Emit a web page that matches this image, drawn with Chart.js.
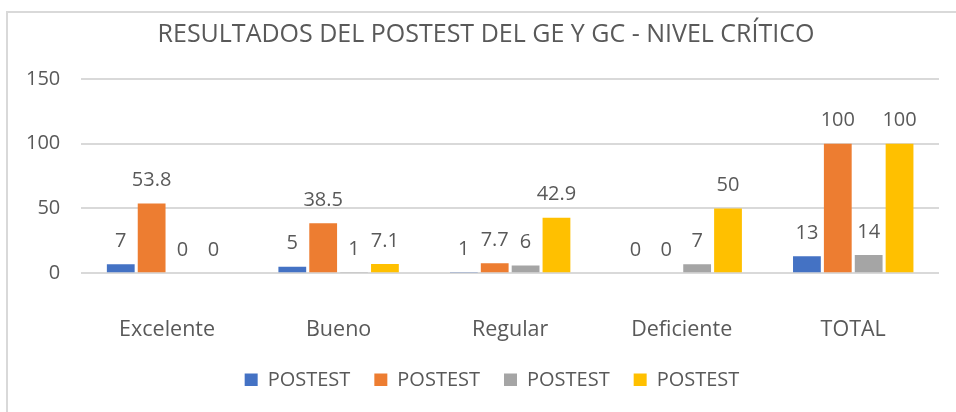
<!DOCTYPE html>
<html>
<head>
<meta charset="utf-8">
<script src="https://cdn.jsdelivr.net/npm/chart.js@4.4.1/dist/chart.umd.min.js"></script>
<style>
  body { margin: 0; background: #fff; overflow: hidden; }
  #wrap { position: relative; width: 956px; height: 412px; }
  #frame {
    position: absolute; left: 6px; top: 11px; width: 960px; height: 410px;
    border: 2px solid #d9d9d9; box-sizing: border-box;
  }
  canvas { position: absolute; left: 0; top: 0; }
</style>
</head>
<body>
<div id="wrap">
  <div id="frame"></div>
  <canvas id="chart" width="956" height="412"></canvas>
</div>
<script>
// chart data
const categories = ['Excelente', 'Bueno', 'Regular', 'Deficiente', 'TOTAL'];
const seriesNames = ['POSTEST', 'POSTEST', 'POSTEST', 'POSTEST'];
const serie1 = [7, 5, 1, 0, 13];
const serie2 = [53.8, 38.5, 7.7, 0, 100];
const serie3 = [0, 1, 6, 7, 14];
const serie4 = [0, 7.1, 42.9, 50, 100];
const colors = ['#4472C4', '#ED7D31', '#A5A5A5', '#FFC000'];
const yTicks = [0, 50, 100, 150];

const FONT = '"Open Sans", sans-serif';
const TEXT = '#595959';

// simple value labels above each bar (no datalabels plugin available)
const barLabels = {
    id: 'barLabels',
    afterLayout(chart) {
        // title and legend sit a bit right of centre in the original
        chart.titleBlock.left += 14; chart.titleBlock.right += 14;
        chart.legend.left += 20; chart.legend.right += 20;
    },
    afterDatasetsDraw(chart) {
        const ctx = chart.ctx;
        ctx.save();
        ctx.font = '20px ' + FONT;
        ctx.fillStyle = TEXT;
        ctx.textAlign = 'center';
        ctx.textBaseline = 'bottom';
        chart.data.datasets.forEach((ds, i) => {
            chart.getDatasetMeta(i).data.forEach((bar, j) => {
                ctx.fillText(String(ds.data[j]), bar.x, bar.y - 13);
            });
        });
        ctx.restore();
    }
};

new Chart(document.getElementById('chart'), {
    type: 'bar',
    data: {
        labels: categories,
        datasets: [serie1, serie2, serie3, serie4].map((d, i) => ({
            label: seriesNames[i],
            data: d,
            backgroundColor: colors[i],
            categoryPercentage: 0.72,
            barPercentage: 0.9
        }))
    },
    options: {
        responsive: false,
        animation: false,
        layout: { padding: { left: 5, right: 17, top: 6, bottom: 26 } },
        plugins: {
            title: {
                display: true,
                text: 'RESULTADOS DEL POSTEST DEL GE Y GC - NIVEL CRÍTICO',
                color: TEXT,
                font: { family: FONT, size: 25, weight: 'normal' },
                padding: { top: 14, bottom: 29 }
            },
            legend: {
                position: 'bottom',
                maxHeight: 40,
                labels: {
                    color: TEXT,
                    font: { family: FONT, size: 20 },
                    boxWidth: 13,
                    boxHeight: 13,
                    padding: 24
                }
            },
            tooltip: { enabled: false }
        },
        scales: {
            x: {
                grid: { display: false, drawTicks: true, tickLength: 41 },
                border: { display: false },
                ticks: { color: TEXT, font: { family: FONT, size: 21.5 }, padding: 3 }
            },
            y: {
                min: 0,
                max: 150,
                afterBuildTicks: axis => { axis.ticks = yTicks.map(v => ({ value: v })); },
                grid: { color: '#d9d9d9', lineWidth: 2, drawTicks: false },
                border: { display: false },
                ticks: { color: TEXT, font: { family: FONT, size: 20 }, padding: 21 }
            }
        }
    },
    plugins: [barLabels]
});
</script>
</body>
</html>
